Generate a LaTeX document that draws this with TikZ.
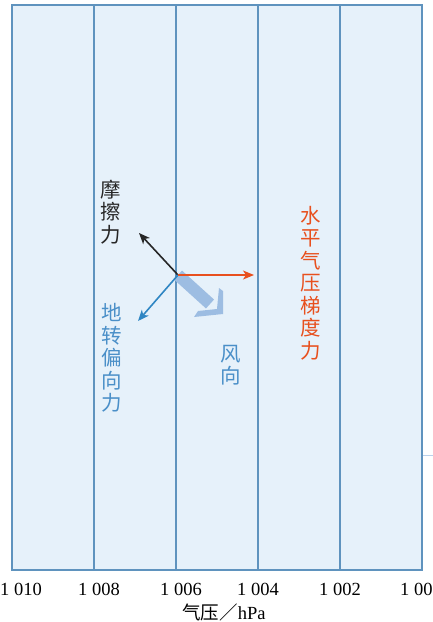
\documentclass[tikz,border=0pt]{standalone}
\usepackage{fontspec}
\setmainfont{Liberation Serif}
\newfontfamily\cjk{Noto Sans CJK SC}
\usetikzlibrary{arrows.meta}
\definecolor{bgblue}{HTML}{E6F1FA}
\definecolor{gridline}{HTML}{5F93BE}
\definecolor{redarr}{HTML}{E8501E}
\definecolor{bluearr}{HTML}{2F86C3}
\definecolor{bluetxt}{HTML}{4A8FC8}
\definecolor{windband}{HTML}{9DBDE2}
\tikzset{
  isobar/.style={draw=gridline, line width=2pt},
  force/.style={line width=1.6pt, -{Stealth[length=11pt,width=9pt,inset=3pt]}},
  vlabel/.style={font=\cjk\fontsize{20.5}{22.5}\selectfont, align=center, inner sep=0pt},
  numlabel/.style={font=\fontsize{18.5}{18.5}\selectfont, inner sep=0pt},
}
\begin{document}
\begin{tikzpicture}[x=1pt,y=-1pt]
\useasboundingbox (0,0) rectangle (433,622);
% background field
\fill[bgblue] (12,5) rectangle (422,570);
\draw[isobar] (12,5) rectangle (422,570);
\foreach \xx in {94,176,258,340} \draw[isobar] (\xx,5) -- (\xx,570);
% small tick at right
\draw[windband!70, line width=1pt] (423,455) -- (433,455);
% origin
\coordinate (o) at (178,275);
\coordinate (fr) at (139,233);
\coordinate (pg) at (254,275);
\coordinate (co) at (138,321);
\coordinate (wd) at (210,304);
% wind direction band and chevron
\draw[windband, line width=12pt] (o) -- (wd);
\fill[windband] (219,288) -- (223,291) -- (223,314) -- (194,317) -- (198,311) -- (217,309) -- cycle;
% forces
\draw[force, black!85] (o) -- (fr);
\draw[force, bluearr] (o) -- (co);
\draw[force, redarr] (o) -- (pg);
% labels
\node[vlabel, text=black!85] (lfr) at (111,212) {摩\\擦\\力};
\node[vlabel, text=bluetxt] (lco) at (112,358) {地\\转\\偏\\向\\力};
\node[vlabel, text=redarr] (lpg) at (311,283) {水\\平\\气\\压\\梯\\度\\力};
\node[vlabel, text=bluetxt] (lwd) at (231,365) {风\\向};
% axis labels
\node[numlabel] (n0) at (21,589) {1 010};
\node[numlabel] (n1) at (99,589) {1 008};
\node[numlabel] (n2) at (181,589) {1 006};
\node[numlabel] (n3) at (258,589) {1 004};
\node[numlabel] (n4) at (340,589) {1 002};
\node[numlabel, anchor=west] (n5) at (400,589) {1 000};
\node[numlabel] (unit) at (224,612) {{\cjk 气压／}hPa};
\end{tikzpicture}
\end{document}
